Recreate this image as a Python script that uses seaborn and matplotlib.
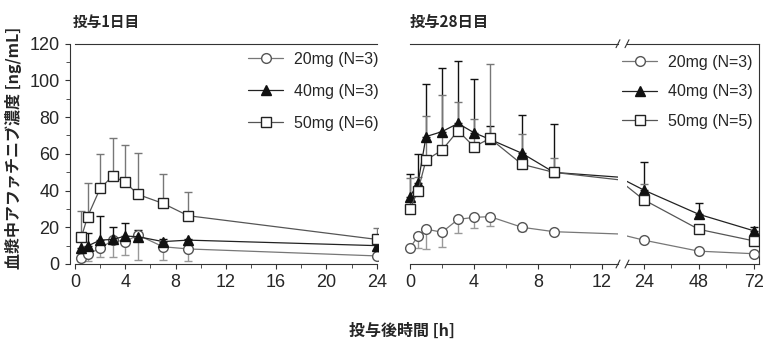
import numpy as np
import seaborn as sns
import matplotlib.pyplot as plt
from matplotlib.ticker import MultipleLocator, FixedLocator

# day 1 (投与1日目)
t1 = [0.5, 1, 2, 3, 4, 5, 7, 9, 24]
d1_20 = [3.1, 5.4, 8.5, 13.0, 12.2, 15.8, 9.4, 8.2, 4.4]
d1_20_sd = [1.5, 4.0, 4.9, 9.0, 7.5, 13.6, 7.0, 6.6, 0.0]      # drawn downward
d1_40 = [8.5, 9.8, 13.0, 13.4, 15.2, 14.9, 12.2, 13.0, 10.0]
d1_40_sd = [8.5, 7.0, 13.0, 6.6, 7.3, 3.6, 1.5, 0.5, 0.0]
d1_50 = [14.5, 25.8, 41.2, 47.9, 44.5, 37.9, 33.0, 26.3, 13.4]
d1_50_sd = [14.5, 18.2, 18.5, 20.5, 20.3, 22.4, 16.0, 12.7, 6.4]

# day 28 (投与28日目)
t28 = [0, 0.5, 1, 2, 3, 4, 5, 7, 9, 24, 48, 72]
d28_20 = [8.7, 15.3, 19.0, 17.3, 24.3, 25.4, 25.8, 20.0, 17.6, 13.0, 7.0, 5.6]
d28_20_sd = [1.0, 6.6, 11.0, 7.9, 7.6, 6.0, 5.1, 2.0, 1.0, 0.0, 0.5, 0.0]   # downward
d28_40 = [36.7, 43.9, 69.4, 72.1, 76.6, 71.5, 67.9, 60.3, 49.9, 40.3, 27.1, 18.1]
d28_40_sd = [12.3, 15.8, 28.5, 34.5, 34.1, 29.3, 7.3, 20.9, 26.1, 15.4, 6.2, 2.1]
d28_50 = [30.0, 40.0, 56.6, 62.0, 72.6, 63.9, 68.4, 54.3, 49.9, 35.0, 18.9, 12.6]
d28_50_sd = [16.8, 7.6, 24.0, 30.0, 15.8, 14.9, 40.5, 16.3, 7.7, 8.4, 0.0, 0.0]

labels1 = ['20mg (N=3)', '40mg (N=3)', '50mg (N=6)']
labels28 = ['20mg (N=3)', '40mg (N=3)', '50mg (N=5)']

sns.set_style('ticks')
plt.rcParams['font.family'] = ['Liberation Sans', 'Noto Sans CJK JP']
jp = ['Noto Sans CJK JP', 'DejaVu Sans']

W, H = 775, 352
fig = plt.figure(figsize=(W / 100, H / 100), dpi=100)


def box(l, r, t, b):
    return [l / W, 1 - b / H, (r - l) / W, (b - t) / H]


ax1 = fig.add_axes(box(70, 378, 43.7, 264))
ax2 = fig.add_axes(box(400.4, 618, 43.7, 264))
ax3 = fig.add_axes(box(627, 759, 43.7, 264))

spc = '#333333'
styles = [
    dict(marker='o', color='#777777', markerfacecolor='white', markeredgecolor='#555555', ecolor='#999999', down=True),
    dict(marker='^', color='#222222', markerfacecolor='#111111', markeredgecolor='#111111', ecolor='#111111', down=False),
    dict(marker='s', color='#555555', markerfacecolor='white', markeredgecolor='#222222', ecolor='#777777', down=False),
]


def draw(ax, t, series, sds, labels):
    for y, sd, st, lab in zip(series, sds, styles, labels):
        t_a, y_a, sd_a = np.array(t), np.array(y), np.array(sd)
        err = [sd_a, np.zeros_like(sd_a)] if st['down'] else [np.zeros_like(sd_a), sd_a]
        keep = sd_a > 0
        ax.errorbar(t_a[keep], y_a[keep], yerr=[e[keep] for e in err], fmt='none',
                    ecolor=st['ecolor'], elinewidth=1.0, capsize=2.6, capthick=1.0, zorder=2)
        sns.lineplot(x=t, y=y, ax=ax, marker=st['marker'], color=st['color'],
                     markerfacecolor=st['markerfacecolor'], markeredgecolor=st['markeredgecolor'],
                     markeredgewidth=1.0, markersize=7, linewidth=0.9, label=lab,
                     legend=False, zorder=3)


draw(ax1, t1, [d1_20, d1_40, d1_50], [d1_20_sd, d1_40_sd, d1_50_sd], labels1)
draw(ax2, t28, [d28_20, d28_40, d28_50], [d28_20_sd, d28_40_sd, d28_50_sd], labels28)
draw(ax3, t28, [d28_20, d28_40, d28_50], [d28_20_sd, d28_40_sd, d28_50_sd], labels28)

for ax in (ax1, ax2, ax3):
    ax.set_ylim(0, 120)
    ax.set_xlabel('')
    ax.set_ylabel('')
    for s in ax.spines.values():
        s.set_color(spc)
        s.set_linewidth(0.8)
    ax.tick_params(which='both', direction='out', color=spc, labelsize=13, pad=4)
    ax.tick_params(which='major', length=3.5)
    ax.tick_params(which='minor', length=3)
    ax.patch.set_alpha(0)

ax1.set_xlim(-0.4, 24.1)
ax1.xaxis.set_major_locator(FixedLocator([0, 4, 8, 12, 16, 20, 24]))
ax1.xaxis.set_minor_locator(MultipleLocator(2))
ax1.yaxis.set_major_locator(MultipleLocator(20))
ax1.yaxis.set_minor_locator(MultipleLocator(10))
ax1.spines['right'].set_visible(False)
ax1.spines['bottom'].set_bounds(0, 24)
ax1.spines['top'].set_bounds(0, 24)

ax2.set_xlim(-0.6, 13)
ax2.xaxis.set_major_locator(FixedLocator([0, 4, 8, 12]))
ax2.xaxis.set_minor_locator(FixedLocator([2, 6, 10]))
ax2.spines['left'].set_visible(False)
ax2.spines['right'].set_visible(False)
ax2.spines['bottom'].set_bounds(0, 13)
ax2.spines['top'].set_bounds(0, 13)
ax2.tick_params(axis='y', which='both', left=False, labelleft=False)

ax3.set_xlim(16.7, 74.3)
ax3.xaxis.set_major_locator(FixedLocator([24, 48, 72]))
ax3.xaxis.set_minor_locator(FixedLocator([36, 60]))
ax3.spines['left'].set_visible(False)
ax3.tick_params(axis='y', which='both', left=False, labelleft=False, right=False, labelright=False)

# break marks
d = 0.018
for ax, xe, k in ((ax2, 1.0, 0.018), (ax3, 0.0, 0.03)):
    for ye in (0, 1):
        ax.plot([xe - k / 2, xe + k / 2], [ye - d, ye + d], transform=ax.transAxes,
                color=spc, lw=0.8, clip_on=False)

# legends
for ax, anchor, sp in ((ax1, (248, 52), 1.05), (ax3, (622, 55), 0.9)):
    leg = ax.legend(loc='upper left', bbox_to_anchor=(anchor[0] / W, 1 - anchor[1] / H),
                    bbox_transform=fig.transFigure, frameon=False, fontsize=11.5,
                    handlelength=2.2, handletextpad=0.7, labelspacing=sp,
                    borderpad=0, borderaxespad=0)
    leg.set_zorder(5)

fig.text(73 / W, 1 - 22 / H, '投与1日目', family=jp, fontsize=10.5, fontweight='bold', va='center')
fig.text(410 / W, 1 - 22 / H, '投与28日目', family=jp, fontsize=11, fontweight='bold', va='center')
fig.text(14 / W, 1 - 148 / H, '血漿中アファチニブ濃度 [ng/mL]', family=jp, fontsize=11.5,
         fontweight='bold', rotation=90, ha='center', va='center')
fig.text(402 / W, 1 - 331 / H, '投与後時間 [h]', family=jp, fontsize=11.5, fontweight='bold',
         ha='center', va='center')

fig.savefig('out.png', dpi=100)
